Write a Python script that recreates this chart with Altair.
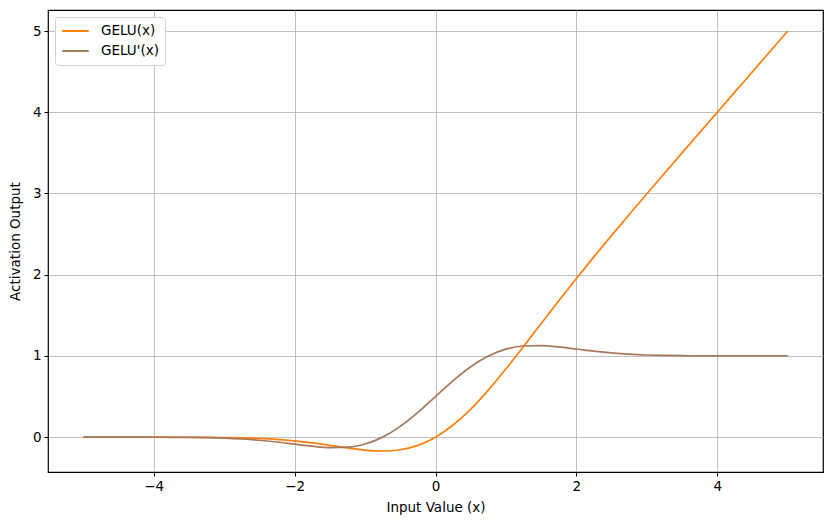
import altair as alt
import pandas as pd

x_vals = [-5.0, -4.75, -4.5, -4.25, -4.0, -3.75, -3.5, -3.25, -3.0, -2.75, -2.5, -2.25,
          -2.0, -1.75, -1.5, -1.25, -1.0, -0.75, -0.5, -0.25, 0.0, 0.25, 0.5, 0.75,
          1.0, 1.25, 1.5, 1.75, 2.0, 2.25, 2.5, 2.75, 3.0, 3.25, 3.5, 3.75, 4.0,
          4.25, 4.5, 4.75, 5.0]

gelu = [0.0, -0.00001, -0.00002, -0.00005, -0.00013, -0.00033, -0.0008, -0.00188,
        -0.00405, -0.0082, -0.01553, -0.0275, -0.0455, -0.07011, -0.10021, -0.13206,
        -0.15866, -0.16997, -0.15427, -0.10032, 0.0, 0.14968, 0.34573, 0.58003,
        0.84134, 1.11794, 1.39979, 1.6799, 1.9545, 2.22251, 2.48448, 2.74181,
        2.99595, 3.24812, 3.4992, 3.74966, 3.99988, 4.25, 4.5, 4.75, 5.0]

gelu_deriv = [-0.00001, -0.00003, -0.00008, -0.0002, -0.00051, -0.00123, -0.00283,
              -0.00602, -0.01194, -0.02202, -0.03762, -0.0592, -0.08523, -0.11093,
              -0.12747, -0.12266, -0.08331, 0.00077, 0.1325, 0.30462, 0.5, 0.69538,
              0.8675, 0.99923, 1.08331, 1.12266, 1.12747, 1.11093, 1.08523, 1.0592,
              1.03762, 1.02202, 1.01194, 1.00602, 1.00283, 1.00123, 1.00051, 1.0002,
              1.00008, 1.00003, 1.00001]

series_names = ["GELU(x)", "GELU'(x)"]
series_colors = ["#ff7f0e", "#a8785a"]

rows = []
for i, x in enumerate(x_vals):
    rows.append({"x": x, "y": gelu[i], "series": series_names[0], "order": 0})
for i, x in enumerate(x_vals):
    rows.append({"x": x, "y": gelu_deriv[i], "series": series_names[1], "order": 1})
df = pd.DataFrame(rows)

font = "DejaVu Sans"
fs = 13.5

chart = alt.Chart(df).mark_line(strokeWidth=1.7, interpolate="monotone").encode(
    x=alt.X("x:Q", scale=alt.Scale(domain=[-5.5, 5.5], nice=False, zero=False),
            axis=alt.Axis(title="Input Value (x)", values=[-4, -2, 0, 2, 4],
                          format="d", titlePadding=8,
                          labelExpr="replace(datum.label, '-', '−')")),
    y=alt.Y("y:Q", scale=alt.Scale(domain=[-0.4285, 5.2585], nice=False, zero=False),
            axis=alt.Axis(title="Activation Output", values=[0, 1, 2, 3, 4, 5],
                          format="d", titlePadding=10)),
    color=alt.Color("series:N", scale=alt.Scale(domain=series_names, range=series_colors),
                    legend=alt.Legend(title=None, orient="none", legendX=7, legendY=7,
                                      symbolType="stroke", symbolStrokeWidth=2,
                                      symbolSize=700, clipHeight=16, labelOffset=11,
                                      labelFontSize=fs, labelFont=font,
                                      fillColor="white", strokeColor="#d0d0d0",
                                      cornerRadius=3, padding=6, rowPadding=4,
                                      labelColor="black")),
    detail="series:N",
    order="order:Q",
).properties(
    width=775, height=462,
    padding={"left": 40, "top": 2, "right": 2, "bottom": 45},
    autosize=alt.AutoSizeParams(type="none"),
).configure_view(
    stroke="black", strokeWidth=1.2
).configure_axis(
    grid=True, gridColor="#b0b0b0", gridWidth=0.8,
    domain=False, tickColor="black", tickSize=4, tickWidth=1,
    labelFont=font, labelFontSize=fs, labelColor="black", labelPadding=3,
    titleFont=font, titleFontSize=fs, titleFontWeight="normal", titleColor="black"
)

chart.save("out.html", embed_options={"renderer": "svg", "actions": False})
